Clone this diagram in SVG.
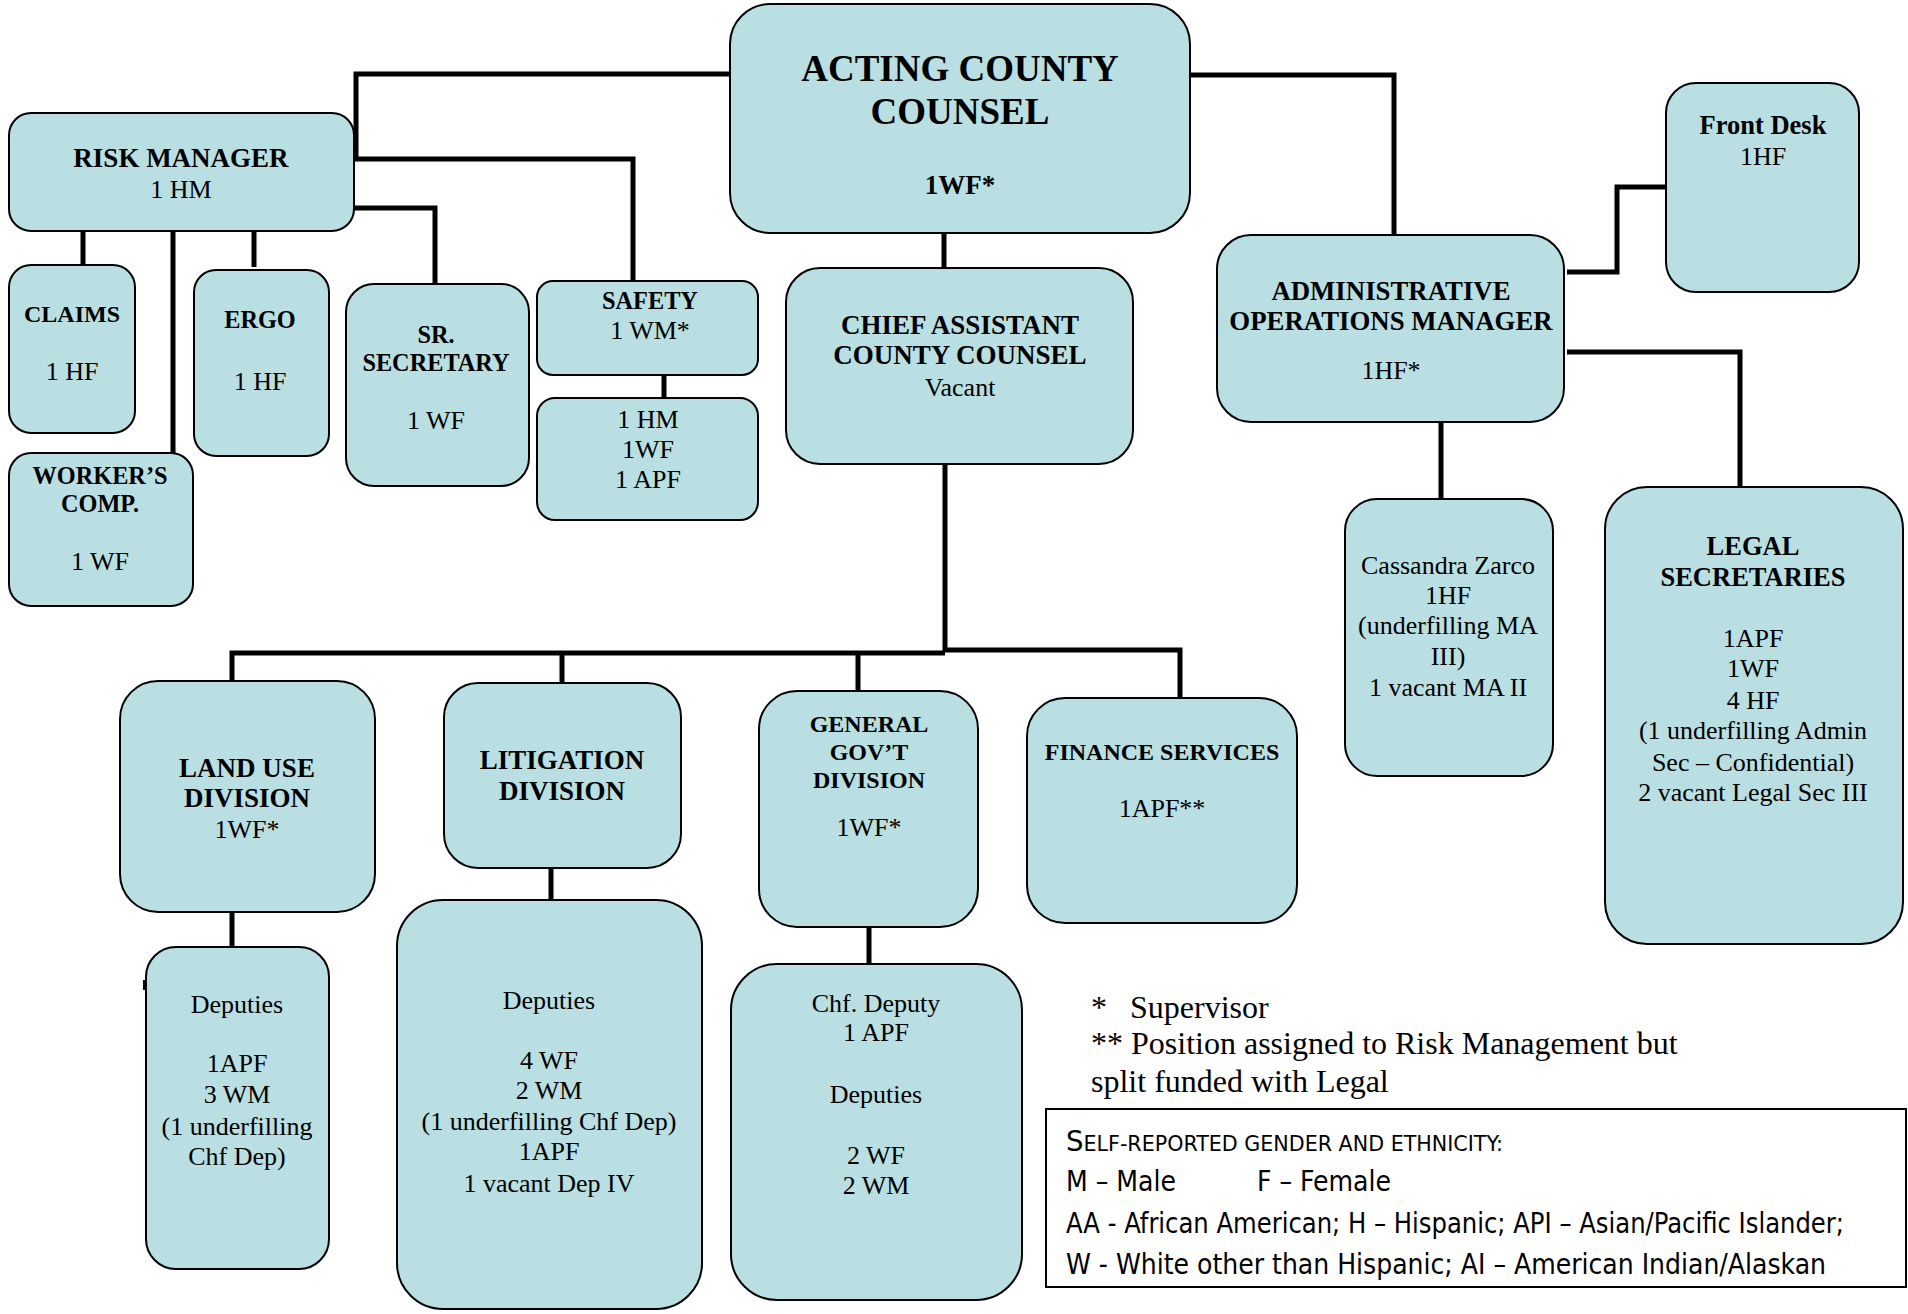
<svg xmlns="http://www.w3.org/2000/svg" width="1908" height="1314" viewBox="0 0 1908 1314">
<style>
.box{fill:#b9dfe2;stroke:#000;stroke-width:2}
.c{fill:none;stroke:#000;stroke-width:5;stroke-linejoin:miter}
text{font-family:"Liberation Serif","Times New Roman",serif;fill:#000;text-anchor:middle}
.b{font-weight:bold}
.r{font-size:26px}
.n{font-size:32px;text-anchor:start}
.lg{font-family:"Liberation Sans Narrow","DejaVu Sans Condensed","Liberation Sans",sans-serif;font-size:28px;text-anchor:start}
</style>
<rect x="0" y="0" width="1908" height="1314" fill="#fff"/>
<g id="connectors">
<polyline class="c" points="730,74 356,74 356,158"/>
<polyline class="c" points="354,159 633,159 633,281"/>
<polyline class="c" points="354,208 435,208 435,284"/>
<line class="c" x1="83" y1="231" x2="83" y2="292"/>
<line class="c" x1="173" y1="231" x2="173" y2="453"/>
<line class="c" x1="254" y1="231" x2="254" y2="267"/>
<line class="c" x1="664" y1="375" x2="664" y2="398"/>
<line class="c" x1="944" y1="232" x2="944" y2="268"/>
<polyline class="c" points="1190,75 1394,75 1394,235"/>
<polyline class="c" points="1567,272 1617,272 1617,187 1666,187"/>
<polyline class="c" points="1567,352 1740,352 1740,487"/>
<line class="c" x1="1441" y1="422" x2="1441" y2="499"/>
<line class="c" x1="945" y1="464" x2="945" y2="652"/>
<polyline class="c" points="232,681 232,653 945,653"/>
<polyline class="c" points="945,650 1180,650 1180,698"/>
<line class="c" x1="562" y1="653" x2="562" y2="683"/>
<line class="c" x1="858" y1="653" x2="858" y2="691"/>
<line class="c" x1="232" y1="913" x2="232" y2="947"/>
<line class="c" x1="551" y1="868" x2="551" y2="900"/>
<line class="c" x1="869" y1="927" x2="869" y2="964"/>
<rect x="143" y="980" width="4" height="10" fill="#000"/>
</g>
<g id="acting">
<rect class="box" x="730" y="4" width="460" height="229" rx="40"/>
<text x="960" y="81" class="b" font-size="37">ACTING COUNTY</text>
<text x="960" y="124" class="b" font-size="37">COUNSEL</text>
<text x="960" y="194" class="b" font-size="27">1WF*</text>
</g>
<g id="risk">
<rect class="box" x="9" y="113" width="345" height="118" rx="22"/>
<text x="181" y="167" class="b" font-size="27">RISK MANAGER</text>
<text x="181" y="198" class="r">1 HM</text>
</g>
<g id="claims">
<rect class="box" x="9" y="265" width="126" height="168" rx="22"/>
<text x="72" y="322" class="b" font-size="24">CLAIMS</text>
<text x="72" y="380" class="r">1 HF</text>
</g>
<g id="workers">
<rect class="box" x="9" y="453" width="184" height="153" rx="22"/>
<text x="100" y="484" class="b" font-size="24.3">WORKER’S</text>
<text x="100" y="512" class="b" font-size="24.3">COMP.</text>
<text x="100" y="570" class="r">1 WF</text>
</g>
<g id="ergo">
<rect class="box" x="194" y="270" width="135" height="186" rx="22"/>
<text x="260" y="328" class="b" font-size="24.3">ERGO</text>
<text x="260" y="390" class="r">1 HF</text>
</g>
<g id="srsec">
<rect class="box" x="346" y="284" width="183" height="202" rx="28"/>
<text x="436" y="343" class="b" font-size="24.3">SR.</text>
<text x="436" y="371" class="b" font-size="24.3">SECRETARY</text>
<text x="436" y="429" class="r">1 WF</text>
</g>
<g id="safety">
<rect class="box" x="537" y="281" width="221" height="94" rx="16"/>
<text x="650" y="309" class="b" font-size="24.3">SAFETY</text>
<text x="650" y="339" class="r">1 WM*</text>
</g>
<g id="safetystaff">
<rect class="box" x="537" y="398" width="221" height="122" rx="18"/>
<text x="648" y="428" class="r">1 HM</text>
<text x="648" y="458" class="r">1WF</text>
<text x="648" y="488" class="r">1 APF</text>
</g>
<g id="chief">
<rect class="box" x="786" y="268" width="347" height="196" rx="34"/>
<text x="960" y="334" class="b" font-size="27">CHIEF ASSISTANT</text>
<text x="960" y="364" class="b" font-size="27">COUNTY COUNSEL</text>
<text x="960" y="396" class="r">Vacant</text>
</g>
<g id="admin">
<rect class="box" x="1217" y="235" width="347" height="187" rx="34"/>
<text x="1391" y="300" class="b" font-size="26.8">ADMINISTRATIVE</text>
<text x="1391" y="330" class="b" font-size="26.8">OPERATIONS MANAGER</text>
<text x="1391" y="379" class="r">1HF*</text>
</g>
<g id="frontdesk">
<rect class="box" x="1666" y="83" width="193" height="209" rx="30"/>
<text x="1763" y="134" class="b" font-size="26.5">Front Desk</text>
<text x="1763" y="165" class="r">1HF</text>
</g>
<g id="cassandra">
<rect class="box" x="1345" y="499" width="208" height="277" rx="32"/>
<text x="1448" y="574" class="r">Cassandra Zarco</text>
<text x="1448" y="604" class="r">1HF</text>
<text x="1448" y="634" class="r">(underfilling MA</text>
<text x="1448" y="665" class="r">III)</text>
<text x="1448" y="696" class="r">1 vacant MA II</text>
</g>
<g id="legalsec">
<rect class="box" x="1605" y="487" width="298" height="457" rx="42"/>
<text x="1753" y="555" class="b" font-size="26.5">LEGAL</text>
<text x="1753" y="586" class="b" font-size="26.5">SECRETARIES</text>
<text x="1753" y="647" class="r">1APF</text>
<text x="1753" y="677" class="r">1WF</text>
<text x="1753" y="709" class="r">4 HF</text>
<text x="1753" y="739" class="r">(1 underfilling Admin</text>
<text x="1753" y="771" class="r">Sec – Confidential)</text>
<text x="1753" y="801" class="r">2 vacant Legal Sec III</text>
</g>
<g id="landuse">
<rect class="box" x="120" y="681" width="255" height="231" rx="38"/>
<text x="247" y="777" class="b" font-size="27">LAND USE</text>
<text x="247" y="807" class="b" font-size="27">DIVISION</text>
<text x="247" y="838" class="r">1WF*</text>
</g>
<g id="litigation">
<rect class="box" x="444" y="683" width="237" height="185" rx="34"/>
<text x="562" y="769" class="b" font-size="27">LITIGATION</text>
<text x="562" y="800" class="b" font-size="27">DIVISION</text>
</g>
<g id="general">
<rect class="box" x="759" y="691" width="219" height="236" rx="38"/>
<text x="869" y="732" class="b" font-size="24">GENERAL</text>
<text x="869" y="760" class="b" font-size="24">GOV’T</text>
<text x="869" y="788" class="b" font-size="24">DIVISION</text>
<text x="869" y="836" class="r">1WF*</text>
</g>
<g id="finance">
<rect class="box" x="1027" y="698" width="270" height="225" rx="38"/>
<text x="1162" y="760" class="b" font-size="24">FINANCE SERVICES</text>
<text x="1162" y="817" class="r">1APF**</text>
</g>
<g id="landdeputies">
<rect class="box" x="146" y="947" width="183" height="322" rx="30"/>
<text x="237" y="1013" class="r">Deputies</text>
<text x="237" y="1072" class="r">1APF</text>
<text x="237" y="1103" class="r">3 WM</text>
<text x="237" y="1135" class="r">(1 underfilling</text>
<text x="237" y="1165" class="r">Chf Dep)</text>
</g>
<g id="litdeputies">
<rect class="box" x="397" y="900" width="305" height="409" rx="46"/>
<text x="549" y="1009" class="r">Deputies</text>
<text x="549" y="1069" class="r">4 WF</text>
<text x="549" y="1099" class="r">2 WM</text>
<text x="549" y="1130" class="r">(1 underfilling Chf Dep)</text>
<text x="549" y="1160" class="r">1APF</text>
<text x="549" y="1192" class="r">1 vacant Dep IV</text>
</g>
<g id="gendeputies">
<rect class="box" x="731" y="964" width="291" height="336" rx="46"/>
<text x="876" y="1012" class="r">Chf. Deputy</text>
<text x="876" y="1041" class="r">1 APF</text>
<text x="876" y="1103" class="r">Deputies</text>
<text x="876" y="1164" class="r">2 WF</text>
<text x="876" y="1194" class="r">2 WM</text>
</g>
<g id="notes">
<text x="1091" y="1018" class="n">*<tspan x="1130">Supervisor</tspan></text>
<text x="1091" y="1054" class="n">** Position assigned to Risk Management but</text>
<text x="1091" y="1092" class="n">split funded with Legal</text>
</g>
<g id="legend">
<rect x="1046" y="1109" width="860" height="178" fill="#fff" stroke="#000" stroke-width="2"/>
<text x="1066" y="1151" class="lg" textLength="437" lengthAdjust="spacingAndGlyphs">S<tspan font-size="21">ELF-REPORTED GENDER AND ETHNICITY:</tspan></text>
<text x="1066" y="1191" class="lg">M – Male</text>
<text x="1257" y="1191" class="lg">F – Female</text>
<text x="1066" y="1233" class="lg" textLength="778" lengthAdjust="spacingAndGlyphs">AA - African American; H – Hispanic; API – Asian/Pacific Islander;</text>
<text x="1066" y="1274" class="lg" textLength="760" lengthAdjust="spacingAndGlyphs">W - White other than Hispanic; AI – American Indian/Alaskan</text>
</g>
</svg>
